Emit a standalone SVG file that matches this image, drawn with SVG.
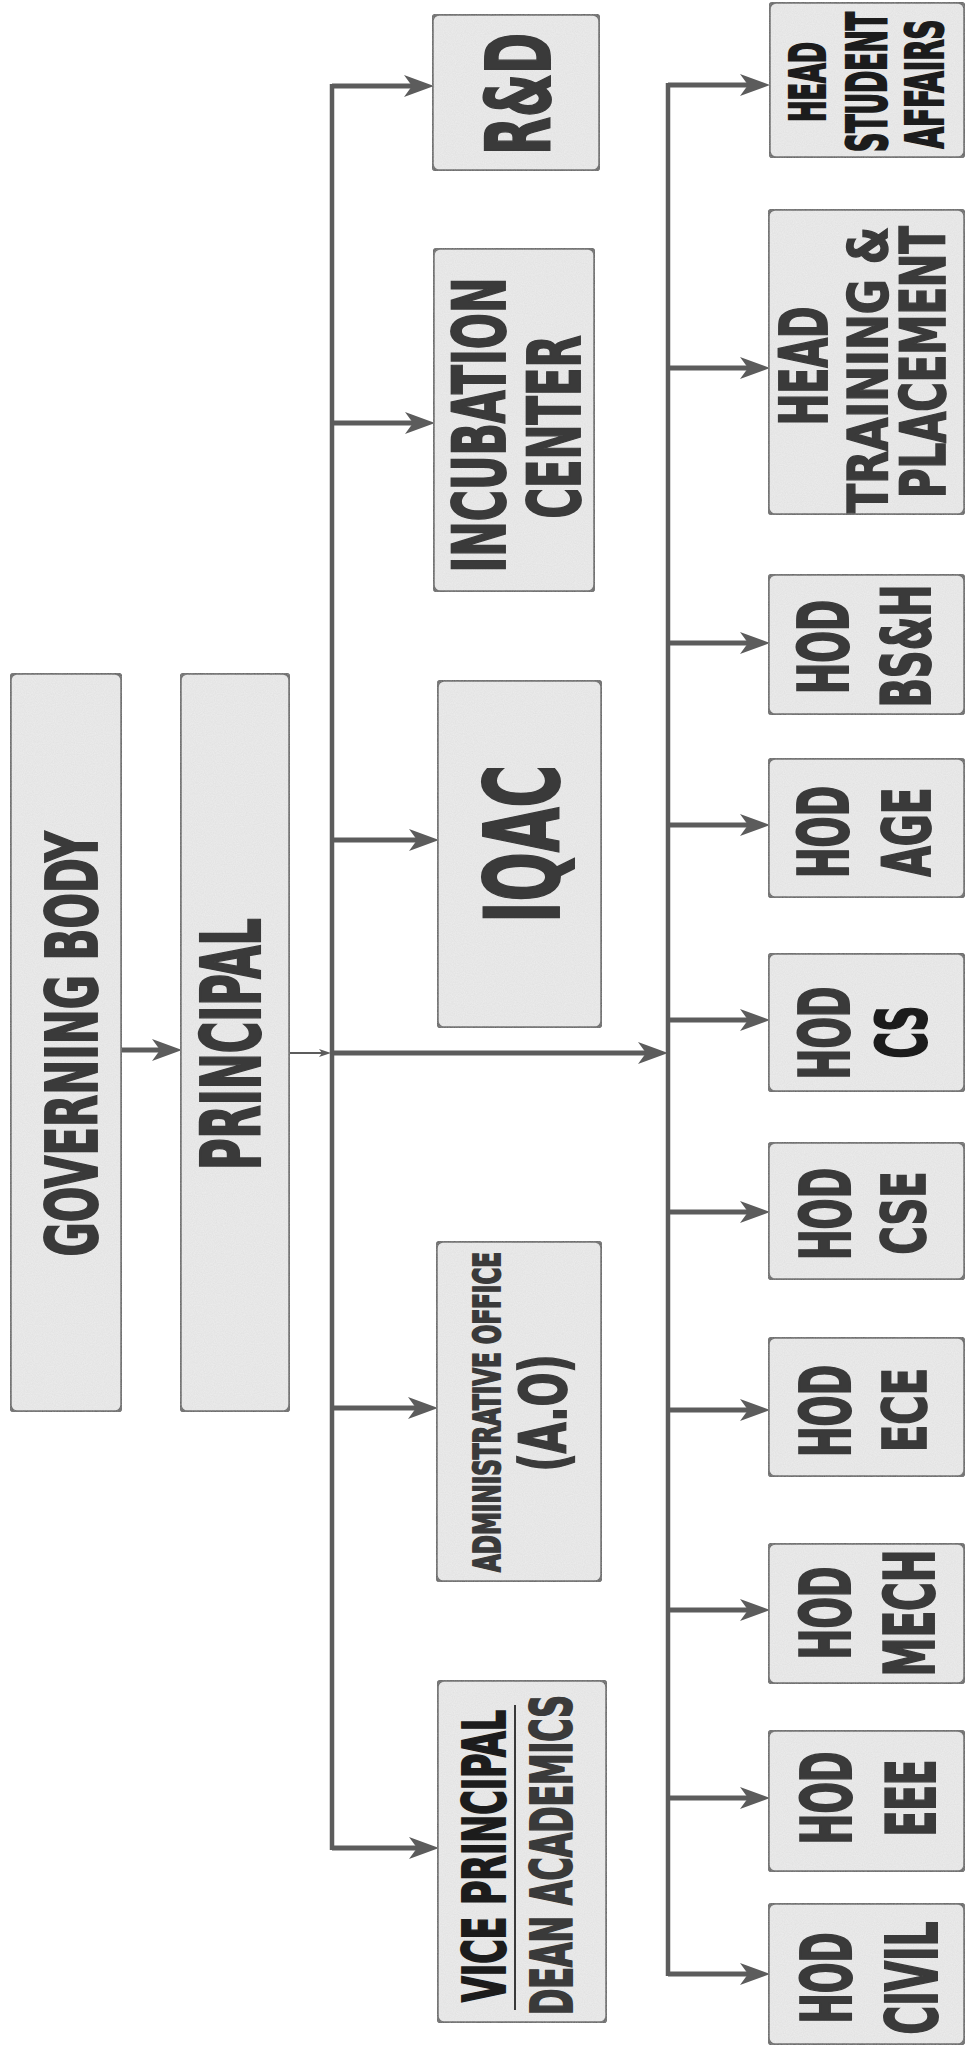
<svg xmlns="http://www.w3.org/2000/svg" width="968" height="2050" viewBox="0 0 968 2050">
<defs>
<marker id="ah" markerUnits="userSpaceOnUse" markerWidth="30" markerHeight="22" refX="8" refY="11" orient="auto">
<path d="M0,0 L30,11 L0,22 L8,11 z" fill="#5c5c5c"/>
</marker>
<marker id="ahs" markerUnits="userSpaceOnUse" markerWidth="12" markerHeight="8" refX="3" refY="4" orient="auto">
<path d="M0,0 L12,4 L0,8 L3,4 z" fill="#5c5c5c"/>
</marker>
<filter id="grain" x="0" y="0" width="100%" height="100%">
<feTurbulence type="fractalNoise" baseFrequency="0.9" numOctaves="2" seed="3" result="n"/>
<feColorMatrix in="n" type="matrix" values="0 0 0 0 0.55  0 0 0 0 0.55  0 0 0 0 0.55  0 0 0 0.35 -0.05" result="g"/>
<feComposite in="g" in2="SourceGraphic" operator="atop"/>
</filter>
</defs>
<style>
.box{fill:#ebebeb;stroke:#666;stroke-width:3.5}
.t{font-family:"DejaVu Sans Condensed","Liberation Sans Narrow","Liberation Sans",sans-serif;font-weight:bold;fill:#3a3a3a;stroke:#3a3a3a;stroke-width:1.2;text-anchor:middle}
.k{fill:#1c1c1c;stroke:#1c1c1c}
.bus{stroke:#5c5c5c;stroke-width:4.5;fill:none}
.arr{stroke:#5c5c5c;stroke-width:5;fill:none;marker-end:url(#ah)}
</style>
<rect width="968" height="2050" fill="#ffffff"/>

<g id="connectors">
<line class="arr" x1="122" y1="1050" x2="160" y2="1050"/>
<line stroke="#5c5c5c" stroke-width="2" x1="290" y1="1053" x2="322" y2="1053" marker-end="url(#ahs)"/>
<line class="bus" x1="332" y1="84" x2="332" y2="1850"/>
<line class="arr" x1="332" y1="86" x2="412" y2="86"/>
<line class="arr" x1="332" y1="423" x2="413" y2="423"/>
<line class="arr" x1="332" y1="840" x2="417" y2="840"/>
<line class="arr" x1="332" y1="1408" x2="416" y2="1408"/>
<line class="arr" x1="332" y1="1848" x2="417" y2="1848"/>
<line class="arr" x1="332" y1="1053" x2="646" y2="1053"/>
<line class="bus" x1="668" y1="83" x2="668" y2="1976"/>
<line class="arr" x1="668" y1="85" x2="748" y2="85"/>
<line class="arr" x1="668" y1="368" x2="748" y2="368"/>
<line class="arr" x1="668" y1="643" x2="748" y2="643"/>
<line class="arr" x1="668" y1="825" x2="748" y2="825"/>
<line class="arr" x1="668" y1="1020" x2="748" y2="1020"/>
<line class="arr" x1="668" y1="1212" x2="748" y2="1212"/>
<line class="arr" x1="668" y1="1410" x2="748" y2="1410"/>
<line class="arr" x1="668" y1="1610" x2="748" y2="1610"/>
<line class="arr" x1="668" y1="1798" x2="748" y2="1798"/>
<line class="arr" x1="668" y1="1974" x2="748" y2="1974"/>
</g>

<g id="governing-body">
<rect class="box" x="10" y="673" width="112" height="739" rx="7" filter="url(#grain)"/>
<text class="t" font-size="46" textLength="425" lengthAdjust="spacingAndGlyphs" transform="translate(97,1044) rotate(-90) scale(1,1.55)">GOVERNING BODY</text>
</g>

<g id="principal">
<rect class="box" x="180" y="673" width="110" height="739" rx="7" filter="url(#grain)"/>
<text class="t" font-size="47" textLength="252" lengthAdjust="spacingAndGlyphs" transform="translate(260,1044) rotate(-90) scale(1,1.75)">PRINCIPAL</text>
</g>

<g id="rnd">
<rect class="box" x="432" y="14" width="168" height="157" rx="7" filter="url(#grain)"/>
<text class="t" font-size="54" textLength="122" lengthAdjust="spacingAndGlyphs" transform="translate(550,94) rotate(-90) scale(1,1.65)">R&amp;D</text>
</g>

<g id="incubation">
<rect class="box" x="433" y="248" width="162" height="344" rx="7" filter="url(#grain)"/>
<text class="t" font-size="46" textLength="295" lengthAdjust="spacingAndGlyphs" transform="translate(505,425) rotate(-90) scale(1,1.58)">INCUBATION</text>
<text class="t" font-size="46" textLength="183" lengthAdjust="spacingAndGlyphs" transform="translate(580,427) rotate(-90) scale(1,1.58)">CENTER</text>
</g>

<g id="iqac">
<rect class="box" x="437" y="680" width="165" height="348" rx="7" filter="url(#grain)"/>
<text class="t" font-size="64" textLength="158" lengthAdjust="spacingAndGlyphs" transform="translate(559,844) rotate(-90) scale(1,1.62)">IQAC</text>
</g>

<g id="admin-office">
<rect class="box" x="436" y="1241" width="166" height="341" rx="7" filter="url(#grain)"/>
<text class="t" font-size="25" textLength="320" lengthAdjust="spacingAndGlyphs" transform="translate(500,1412) rotate(-90) scale(1,1.52)">ADMINISTRATIVE OFFICE</text>
<text class="t" font-size="44" textLength="117" lengthAdjust="spacingAndGlyphs" transform="translate(566,1413) rotate(-90) scale(1,1.46)">(A.O)</text>
</g>

<g id="vice-principal">
<rect class="box" x="437" y="1680" width="170" height="343" rx="7" filter="url(#grain)"/>
<text class="t k" font-size="36" textLength="292" lengthAdjust="spacingAndGlyphs" transform="translate(505,1856) rotate(-90) scale(1,1.64)">VICE PRINCIPAL</text>
<line x1="515" y1="1705" x2="515" y2="2010" stroke="#3a3a3a" stroke-width="2"/>
<text class="t" font-size="35" textLength="320" lengthAdjust="spacingAndGlyphs" transform="translate(572,1855) rotate(-90) scale(1,1.64)">DEAN ACADEMICS</text>
</g>

<g id="head-student-affairs">
<rect class="box" x="769" y="2" width="196" height="156" rx="7" filter="url(#grain)"/>
<text class="t k" font-size="28" textLength="80" lengthAdjust="spacingAndGlyphs" transform="translate(825,82) rotate(-90) scale(1,1.8)">HEAD</text>
<text class="t k" font-size="29" textLength="140" lengthAdjust="spacingAndGlyphs" transform="translate(886,82) rotate(-90) scale(1,1.88)">STUDENT</text>
<text class="t k" font-size="29" textLength="129" lengthAdjust="spacingAndGlyphs" transform="translate(943,84) rotate(-90) scale(1,1.78)">AFFAIRS</text>
</g>

<g id="head-training-placement">
<rect class="box" x="768" y="209" width="197" height="306" rx="7" filter="url(#grain)"/>
<text class="t" font-size="42" textLength="119" lengthAdjust="spacingAndGlyphs" transform="translate(827,366) rotate(-90) scale(1,1.57)">HEAD</text>
<text class="t" font-size="47" textLength="286" lengthAdjust="spacingAndGlyphs" transform="translate(887,370) rotate(-90) scale(1,1.17)">TRAINING &amp;</text>
<text class="t" font-size="44" textLength="272" lengthAdjust="spacingAndGlyphs" transform="translate(945,362) rotate(-90) scale(1,1.4)">PLACEMENT</text>
</g>

<g id="hod-bsh">
<rect class="box" x="768" y="574" width="197" height="141" rx="7" filter="url(#grain)"/>
<text class="t" font-size="41" textLength="94" lengthAdjust="spacingAndGlyphs" transform="translate(848,647) rotate(-90) scale(1,1.71)">HOD</text>
<text class="t" font-size="42" textLength="123" lengthAdjust="spacingAndGlyphs" transform="translate(930,646) rotate(-90) scale(1,1.63)">BS&amp;H</text>
</g>

<g id="hod-age">
<rect class="box" x="768" y="758" width="197" height="140" rx="7" filter="url(#grain)"/>
<text class="t" font-size="40" textLength="92" lengthAdjust="spacingAndGlyphs" transform="translate(848,832) rotate(-90) scale(1,1.74)">HOD</text>
<text class="t" font-size="43" textLength="89" lengthAdjust="spacingAndGlyphs" transform="translate(930,832) rotate(-90) scale(1,1.55)">AGE</text>
</g>

<g id="hod-cs">
<rect class="box" x="768" y="953" width="197" height="139" rx="7" filter="url(#grain)"/>
<text class="t" font-size="41" textLength="93" lengthAdjust="spacingAndGlyphs" transform="translate(849,1033) rotate(-90) scale(1,1.71)">HOD</text>
<text class="t k" font-size="40" textLength="53" lengthAdjust="spacingAndGlyphs" transform="translate(926,1032) rotate(-90) scale(1,1.72)" stroke-width="2">CS</text>
</g>

<g id="hod-cse">
<rect class="box" x="768" y="1142" width="197" height="138" rx="7" filter="url(#grain)"/>
<text class="t" font-size="40" textLength="92" lengthAdjust="spacingAndGlyphs" transform="translate(850,1214) rotate(-90) scale(1,1.74)">HOD</text>
<text class="t" font-size="43" textLength="83" lengthAdjust="spacingAndGlyphs" transform="translate(925,1213) rotate(-90) scale(1,1.42)">CSE</text>
</g>

<g id="hod-ece">
<rect class="box" x="768" y="1337" width="197" height="140" rx="7" filter="url(#grain)"/>
<text class="t" font-size="40" textLength="92" lengthAdjust="spacingAndGlyphs" transform="translate(850,1411) rotate(-90) scale(1,1.74)">HOD</text>
<text class="t" font-size="44" textLength="84" lengthAdjust="spacingAndGlyphs" transform="translate(926,1410) rotate(-90) scale(1,1.36)">ECE</text>
</g>

<g id="hod-mech">
<rect class="box" x="768" y="1543" width="197" height="141" rx="7" filter="url(#grain)"/>
<text class="t" font-size="41" textLength="93" lengthAdjust="spacingAndGlyphs" transform="translate(850,1613) rotate(-90) scale(1,1.71)">HOD</text>
<text class="t" font-size="43" textLength="127" lengthAdjust="spacingAndGlyphs" transform="translate(934,1613) rotate(-90) scale(1,1.6)">MECH</text>
</g>

<g id="hod-eee">
<rect class="box" x="768" y="1730" width="197" height="142" rx="7" filter="url(#grain)"/>
<text class="t" font-size="41" textLength="93" lengthAdjust="spacingAndGlyphs" transform="translate(851,1798) rotate(-90) scale(1,1.71)">HOD</text>
<text class="t" font-size="41" textLength="77" lengthAdjust="spacingAndGlyphs" transform="translate(935,1798) rotate(-90) scale(1,1.67)">EEE</text>
</g>

<g id="hod-civil">
<rect class="box" x="768" y="1903" width="197" height="142" rx="7" filter="url(#grain)"/>
<text class="t" font-size="40" textLength="91" lengthAdjust="spacingAndGlyphs" transform="translate(851,1978) rotate(-90) scale(1,1.74)">HOD</text>
<text class="t" font-size="43" textLength="113" lengthAdjust="spacingAndGlyphs" transform="translate(937,1978) rotate(-90) scale(1,1.66)">CIVIL</text>
</g>
</svg>
